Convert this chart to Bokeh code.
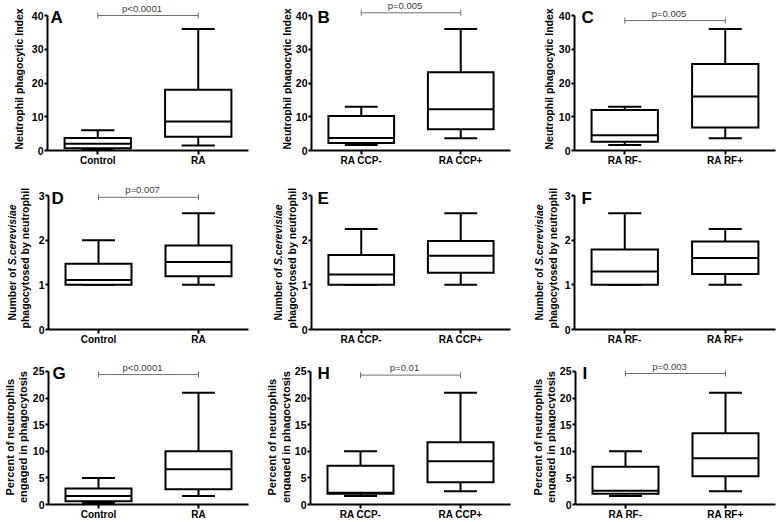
import math
from bokeh.plotting import figure
from bokeh.models import FactorRange, Range1d, FixedTicker, Label, ColumnDataSource
from bokeh.transform import dodge
from bokeh.layouts import column, row
from bokeh.embed import file_html
from bokeh.resources import INLINE

FONT = "Liberation Sans"

# ---------------- data ----------------
groups_A = ["Control", "RA"]
groups_B = ["RA CCP-", "RA CCP+"]
groups_C = ["RA RF-", "RA RF+"]

# Neutrophil phagocytic index: lower whisker, Q1, median, Q3, upper whisker
A_low = [0.4, 1.5]; A_q1 = [0.7, 4.1]; A_med = [2.0, 8.6]; A_q3 = [3.7, 18.0]; A_high = [6.0, 36.0]
B_low = [1.6, 3.6]; B_q1 = [2.2, 6.3]; B_med = [3.7, 12.2]; B_q3 = [10.2, 23.2]; B_high = [13.0, 36.0]
C_low = [1.6, 3.6]; C_q1 = [2.6, 6.8]; C_med = [4.5, 16.0]; C_q3 = [12.0, 25.6]; C_high = [13.0, 36.0]

# Number of S.cerevisiae phagocytosed by neutrophil
D_low = [1.0, 1.0]; D_q1 = [1.0, 1.19]; D_med = [1.11, 1.51]; D_q3 = [1.47, 1.88]; D_high = [2.0, 2.6]
E_low = [1.0, 1.0]; E_q1 = [1.0, 1.27]; E_med = [1.23, 1.65]; E_q3 = [1.67, 1.98]; E_high = [2.25, 2.6]
F_low = [1.0, 1.0]; F_q1 = [1.0, 1.24]; F_med = [1.30, 1.60]; F_q3 = [1.79, 1.97]; F_high = [2.6, 2.25]

# Percent of neutrophils engaged in phagocytosis
G_low = [0.3, 1.6]; G_q1 = [0.6, 2.85]; G_med = [1.6, 6.6]; G_q3 = [3.0, 10.0]; G_high = [5.0, 21.0]
H_low = [1.6, 2.5]; H_q1 = [2.0, 4.2]; H_med = [2.2, 8.1]; H_q3 = [7.3, 11.7]; H_high = [10.0, 21.0]
I_low = [1.6, 2.5]; I_q1 = [2.0, 5.3]; I_med = [2.6, 8.7]; I_q3 = [7.1, 13.4]; I_high = [10.0, 21.0]

ticks_index = [0, 10, 20, 30, 40]
ticks_count = [0, 1, 2, 3]
ticks_percent = [0, 5, 10, 15, 20, 25]

pval_panels = ["A", "B", "C", "D", "G", "H", "I"]
pval_texts = ["p<0.0001", "p=0.005", "p=0.005", "p=0.007", "p<0.0001", "p=0.01", "p=0.003"]
pval_levels = [40.0, 40.8, 38.5, 2.96, 24.4, 24.3, 24.6]

ylab_row1 = ["Neutrophil phagocytic Index"]
ylab_row2 = ["Number of", "S.cerevisiae", "phagocytosed by neutrophil"]
ylab_row3 = ["Percent of neutrophils", "engaged in phagocytosis"]

# ---------------- layout (pixels) ----------------
ROW_H = [180, 178, 164]
BT = [0, 5, 4]
FH = [150, 144, 144]
AXIS_PX = [135, 134, 135]
LBL_W = [[25, 32, 25], [35, 36, 29], [29, 29, 28]]
PNL_W = [[235, 238, 223], [227, 234, 217], [233, 237, 222]]
PNL_BL = [[22, 17, 18], [12, 11, 12], [17, 17, 17]]
PNL_FW = [[201, 201, 202], [201, 201, 202], [202, 202, 202]]
LBL_X = [[[18.5], [26], [18]], [[11, 24.5], [15, 29.5], [6, 20.5]], [[9, 22.5], [9, 23.5], [9, 22.5]]]
LETTER_DX = [[3, 6, 7], [3, 6, 7], [4, 7, 7]]
LETTER_DY = [2, 3, 4]
YLAB_SIZE = [10.5, 10.5, 11]

GRAY_LINE = "#707070"
GRAY_TEXT = "#404040"

# Advance widths (per 1000 em) of the bold sans face, used to centre rotated labels
ADV = {" ": 278, ".": 278, "a": 556, "b": 611, "c": 556, "d": 611, "e": 556, "f": 333, "g": 611,
       "h": 611, "i": 278, "l": 278, "m": 889, "n": 611, "o": 611, "p": 611, "r": 389, "s": 556,
       "t": 333, "u": 611, "v": 556, "x": 556, "y": 556, "I": 278, "N": 722, "P": 667, "S": 667}


def text_w(s, size):
    return sum(ADV.get(ch, 556) for ch in s) * size / 1000.0


def label_fig(r, c):
    w, h = LBL_W[r][c], ROW_H[r]
    fh = FH[r]
    # frame matches the panel frames of the row; y measured downward from frame top
    p = figure(width=w, height=h, x_range=Range1d(0, w), y_range=Range1d(fh, 0),
               x_axis_location=None, y_axis_location=None,
               min_border_left=0, min_border_right=0,
               min_border_top=BT[r], min_border_bottom=h - BT[r] - fh,
               output_backend="svg", toolbar_location=None)
    p.outline_line_color = None
    p.grid.visible = False
    size = YLAB_SIZE[r]
    mid = (fh - AXIS_PX[r]) + AXIS_PX[r] / 2
    common = dict(angle=math.pi / 2, text_font=FONT, text_font_size=f"{size}px",
                  text_color="black", text_baseline="middle", text_align="left")
    xs = LBL_X[r][c]

    def start_of(length):
        s = mid + length / 2
        s = min(s, fh - 1)
        s = max(s, length + 1)
        return s

    def centred(x, s, style="bold"):
        p.add_layout(Label(x=x, y=start_of(text_w(s, size)), text=s,
                           text_font_style=style, **common))

    if r == 0:
        centred(xs[0], ylab_row1[0])
    elif r == 1:
        w1 = text_w(ylab_row2[0], size)
        gap = text_w(" ", size)
        w2 = text_w(ylab_row2[1], size)
        bottom = start_of(w1 + gap + w2)
        p.add_layout(Label(x=xs[0], y=bottom, text=ylab_row2[0], text_font_style="bold", **common))
        p.add_layout(Label(x=xs[0], y=bottom - w1 - gap, text=ylab_row2[1],
                           text_font_style="bold italic", **common))
        centred(xs[1], ylab_row2[2])
    else:
        centred(xs[0], ylab_row3[0])
        centred(xs[1], ylab_row3[1])
    return p


def panel(letter, cats, low, q1, med, q3, high, ticks, r, c):
    top = ticks[-1]
    yend = top * FH[r] / AXIS_PX[r]
    W = PNL_W[r][c]
    p = figure(width=W, height=ROW_H[r],
               x_range=FactorRange(*cats), y_range=Range1d(0, yend),
               output_backend="svg", toolbar_location=None,
               min_border_left=PNL_BL[r][c], min_border_right=W - PNL_BL[r][c] - PNL_FW[r][c],
               min_border_top=BT[r], min_border_bottom=ROW_H[r] - BT[r] - FH[r])
    p.outline_line_color = None
    p.xgrid.visible = False
    p.ygrid.visible = False

    for ax in (p.xaxis[0], p.yaxis[0]):
        ax.axis_line_width = 2
        ax.axis_line_color = "black"
        ax.major_tick_line_width = 2
        ax.major_tick_line_color = "black"
        ax.major_tick_in = 0
        ax.minor_tick_line_color = None
        ax.major_label_text_font = FONT
        ax.major_label_text_font_style = "bold"
        ax.major_label_text_color = "black"
    p.xaxis.major_tick_out = 4
    p.xaxis.major_label_standoff = 0
    p.xaxis.major_label_text_font_size = "10px"
    p.yaxis.major_tick_out = 3
    p.yaxis.major_label_standoff = 1
    p.yaxis.major_label_text_font_size = "10.5px"
    p.yaxis.ticker = FixedTicker(ticks=ticks)
    p.yaxis.bounds = (0, top)

    src = ColumnDataSource(dict(cat=cats, low=low, q1=q1, med=med, q3=q3, high=high))
    lw = 2
    p.segment(x0="cat", y0="q3", x1="cat", y1="high", source=src, line_color="black", line_width=lw)
    p.segment(x0="cat", y0="low", x1="cat", y1="q1", source=src, line_color="black", line_width=lw)
    p.segment(x0=dodge("cat", -0.165, range=p.x_range), y0="high",
              x1=dodge("cat", 0.165, range=p.x_range), y1="high",
              source=src, line_color="black", line_width=lw)
    p.segment(x0=dodge("cat", -0.165, range=p.x_range), y0="low",
              x1=dodge("cat", 0.165, range=p.x_range), y1="low",
              source=src, line_color="black", line_width=lw)
    p.vbar(x="cat", width=0.66, bottom="q1", top="q3", source=src,
           fill_color="white", line_color="black", line_width=lw, line_join="miter")
    p.segment(x0=dodge("cat", -0.33, range=p.x_range), y0="med",
              x1=dodge("cat", 0.33, range=p.x_range), y1="med",
              source=src, line_color="black", line_width=lw)

    if letter in pval_panels:
        i = pval_panels.index(letter)
        lvl = pval_levels[i]
        d = 3 * yend / FH[r]
        p.segment(x0=[cats[0]], y0=[lvl], x1=[cats[1]], y1=[lvl], line_color=GRAY_LINE, line_width=1)
        p.segment(x0=[cats[0], cats[1]], y0=[lvl - d, lvl - d], x1=[cats[0], cats[1]], y1=[lvl + d, lvl + d],
                  line_color=GRAY_LINE, line_width=1)
        p.add_layout(Label(x=len(cats) / 2, y=lvl, x_units="data", y_units="data",
                           x_offset=-6, y_offset=2, text=pval_texts[i], text_align="center",
                           text_baseline="bottom", text_font=FONT, text_font_size="9.5px",
                           text_color=GRAY_TEXT))

    p.add_layout(Label(x=LETTER_DX[r][c], y=AXIS_PX[r] - LETTER_DY[r], x_units="screen", y_units="screen",
                       text=letter, text_font=FONT, text_font_style="bold", text_font_size="17px",
                       text_color="black", text_baseline="alphabetic", text_align="left"))
    return p


pA = panel("A", groups_A, A_low, A_q1, A_med, A_q3, A_high, ticks_index, 0, 0)
pB = panel("B", groups_B, B_low, B_q1, B_med, B_q3, B_high, ticks_index, 0, 1)
pC = panel("C", groups_C, C_low, C_q1, C_med, C_q3, C_high, ticks_index, 0, 2)
pD = panel("D", groups_A, D_low, D_q1, D_med, D_q3, D_high, ticks_count, 1, 0)
pE = panel("E", groups_B, E_low, E_q1, E_med, E_q3, E_high, ticks_count, 1, 1)
pF = panel("F", groups_C, F_low, F_q1, F_med, F_q3, F_high, ticks_count, 1, 2)
pG = panel("G", groups_A, G_low, G_q1, G_med, G_q3, G_high, ticks_percent, 2, 0)
pH = panel("H", groups_B, H_low, H_q1, H_med, H_q3, H_high, ticks_percent, 2, 1)
pI = panel("I", groups_C, I_low, I_q1, I_med, I_q3, I_high, ticks_percent, 2, 2)

panels = [[pA, pB, pC], [pD, pE, pF], [pG, pH, pI]]
rows = []
for r in range(3):
    items = []
    for c in range(3):
        items.append(label_fig(r, c))
        items.append(panels[r][c])
    rows.append(row(*items))

layout = column(*rows)

open("out.html", "w").write(file_html(layout, INLINE))
